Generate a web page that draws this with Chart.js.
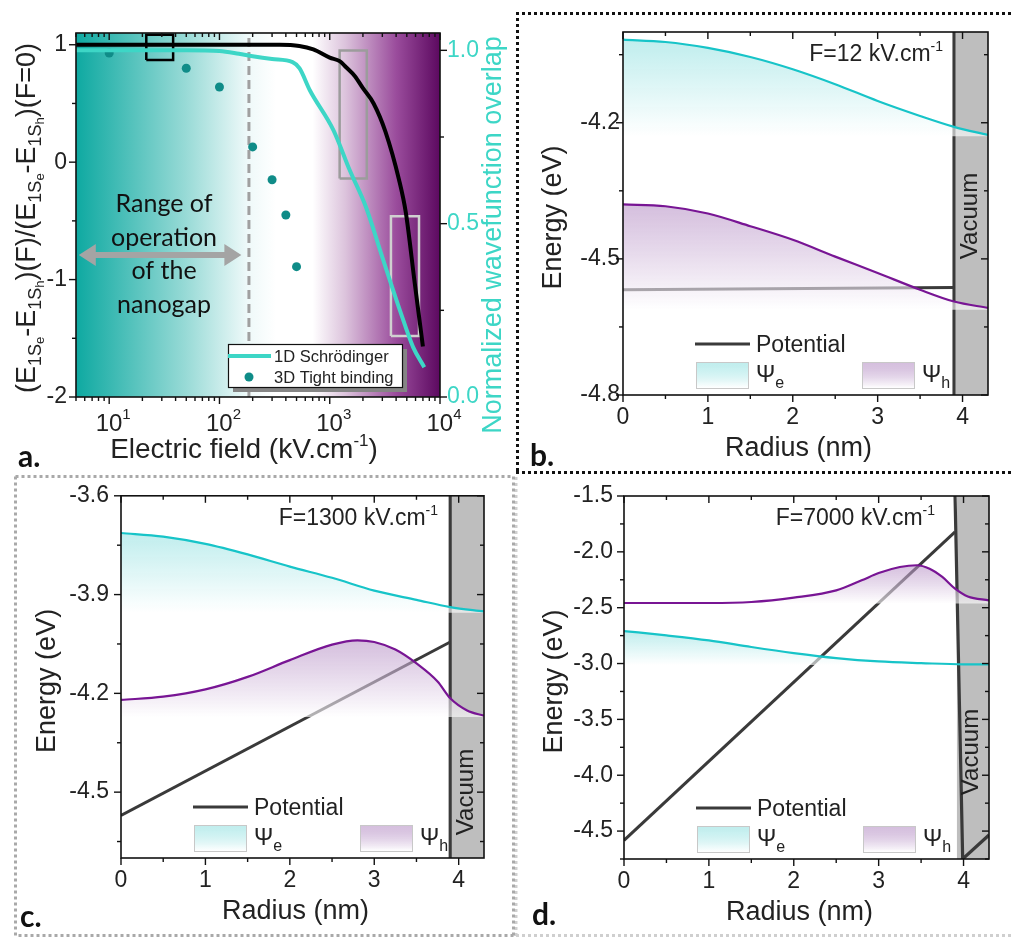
<!DOCTYPE html>
<html>
<head>
<meta charset="utf-8">
<script src="https://cdn.jsdelivr.net/npm/chart.js@4.4.0/dist/chart.umd.min.js"></script>
<style>
  body { margin: 0; background: #fff; width: 1012px; height: 937px; position: relative; overflow: hidden; }
  canvas { position: absolute; }
</style>
</head>
<body>
<canvas id="borders" width="1012" height="937" style="left:0;top:0"></canvas>
<canvas id="chartA" width="512" height="470" style="left:0;top:0"></canvas>
<canvas id="chartB" width="500" height="470" style="left:512px;top:0"></canvas>
<canvas id="chartC" width="512" height="467" style="left:0;top:470px"></canvas>
<canvas id="chartD" width="500" height="467" style="left:512px;top:470px"></canvas>
<script>
// ---- panel a : field dependence ----
const aFieldEnergy = [5, 100, 350, 530, 710, 1000, 1230, 1400, 1700, 2000, 2500, 3200, 4250, 4900, 5900, 7000];
const aEnergyRatio = [1, 1, 1, 0.99, 0.96, 0.89, 0.86, 0.81, 0.73, 0.63, 0.50, 0.26, -0.15, -0.43, -1.03, -1.57];
const aFieldOverlap = [5, 50, 100, 150, 200, 300, 460, 533, 660, 1080, 1520, 2130, 3000, 4330, 5700, 7200];
const aOverlap = [1.0, 1.0, 0.998, 0.99, 0.983, 0.975, 0.966, 0.948, 0.885, 0.77, 0.654, 0.548, 0.403, 0.25, 0.144, 0.086];
const aFieldTB = [10, 50, 100, 200, 300, 400, 500];
const aEnergyTB = [0.93, 0.80, 0.64, 0.13, -0.15, -0.45, -0.89];
const aTicksX = [10, 100, 1000, 10000];
const aTicksLeft = [-2, -1, 0, 1];
const aTicksRight = [0, 0.5, 1.0];
const aNanogapLimit = 185;
const aArrowField = [5.3, 158];
const aArrowLevel = -0.79;
const aBoxBlackX = [21.7, 38], aBoxBlackY = [0.87, 1.085];
const aBoxGreyX = [1230, 2170], aBoxGreyY = [-0.14, 0.95];
const aBoxLightX = [3590, 6450], aBoxLightY = [-1.48, -0.46];

// ---- panels b, c, d : radial profiles ----
const radiusTicks = [0, 1, 2, 3, 4];
const radiusMax = 4.3;
const vacuumStart = 3.92;

const bRadius = [0, 0.5, 1, 1.5, 2, 2.5, 3, 3.5, 3.9, 4.3];
const bElectron = [-4.017, -4.022, -4.035, -4.055, -4.082, -4.115, -4.152, -4.185, -4.209, -4.227];
const bHole = [-4.38, -4.384, -4.40, -4.428, -4.458, -4.495, -4.531, -4.568, -4.594, -4.608];
const bElectronBase = -4.23, bHoleBase = -4.612;
const bPotR = [0, 3.9], bPotE = [-4.568, -4.563];
const bWallR = [3.9, 3.9], bWallE = [-4.8, -4.0];
const bTicksY = [-4.8, -4.5, -4.2];

const cRadiusE = [0, 0.5, 1, 1.5, 2, 2.5, 3, 3.5, 3.9, 4.3];
const cElectron = [-3.713, -3.724, -3.746, -3.778, -3.815, -3.849, -3.888, -3.916, -3.938, -3.951];
const cRadiusH = [0, 0.5, 1, 1.5, 2, 2.5, 2.8, 3.0, 3.25, 3.5, 3.75, 3.9, 4.1, 4.3];
const cHole = [-4.22, -4.21, -4.188, -4.150, -4.099, -4.052, -4.039, -4.044, -4.067, -4.109, -4.164, -4.215, -4.252, -4.268];
const cElectronBase = -3.955, cHoleBase = -4.272;
const cPotR = [0, 3.9], cPotE = [-4.571, -4.044];
const cWallR = [3.9, 3.9], cWallE = [-4.7, -3.6];
const cTicksY = [-4.5, -4.2, -3.9, -3.6];

const dRadiusE = [0, 0.5, 1, 1.5, 2, 2.5, 3, 3.5, 4, 4.3];
const dElectron = [-2.709, -2.748, -2.793, -2.852, -2.906, -2.951, -2.981, -2.996, -3.007, -3.007];
const dRadiusH = [0, 0.5, 1, 1.5, 2, 2.5, 2.8, 3.0, 3.25, 3.45, 3.6, 3.75, 3.9, 4.05, 4.3];
const dHole = [-2.458, -2.458, -2.458, -2.449, -2.41, -2.345, -2.255, -2.19, -2.136, -2.12, -2.151, -2.225, -2.33, -2.40, -2.434];
const dElectronBase = -3.012, dHoleBase = -2.462;
const dPotR = [0, 3.9], dPotE = [-4.583, -1.822];
const dWallR = [3.9, 3.99, 4.3], dWallE = [-1.5, -4.75, -4.535];
const dTicksY = [-4.5, -4.0, -3.5, -3.0, -2.5, -2.0, -1.5];

const SANS = '"Liberation Sans", Arial, sans-serif';
const HUMAN = 'Lato, "Open Sans", sans-serif';
const TURQ = '#3dd6c6';
const ELECTRON = '#17c4c8';
const HOLE = '#781594';
const POT = '#3a3a3a';

Chart.defaults.font.family = SANS;
Chart.defaults.color = '#222';

function pts(xs, ys) { return xs.map((x, i) => ({ x: x, y: ys[i] })); }
function boxPts(xs, ys) {
  return [{x: xs[0], y: ys[0]}, {x: xs[1], y: ys[0]}, {x: xs[1], y: ys[1]}, {x: xs[0], y: ys[1]}, {x: xs[0], y: ys[0]}];
}

// mixed size text: parts = [text, size, dy]
function drawRich(ctx, parts, x, y, family, color, align) {
  ctx.save();
  ctx.fillStyle = color;
  ctx.textBaseline = 'alphabetic';
  ctx.textAlign = 'left';
  let w = 0;
  parts.forEach(p => { ctx.font = p[1] + 'px ' + family; w += ctx.measureText(p[0]).width; });
  let cx = align === 'center' ? x - w / 2 : (align === 'right' ? x - w : x);
  parts.forEach(p => {
    ctx.font = p[1] + 'px ' + family;
    ctx.fillText(p[0], cx, y + (p[2] || 0));
    cx += ctx.measureText(p[0]).width;
  });
  ctx.restore();
}
function drawRotated(ctx, parts, x, y, family, color) {
  ctx.save();
  ctx.translate(x, y);
  ctx.rotate(-Math.PI / 2);
  drawRich(ctx, parts, 0, 0, family, color, 'center');
  ctx.restore();
}

function minorValues(scale, majors) {
  const out = [];
  if (scale.type === 'logarithmic') {
    for (let e = Math.floor(Math.log10(scale.min)); e <= Math.ceil(Math.log10(scale.max)); e++) {
      for (let k = 2; k <= 9; k++) {
        const v = k * Math.pow(10, e);
        if (v >= scale.min && v <= scale.max) out.push(v);
      }
    }
    return out;
  }
  const step = (majors[1] - majors[0]) / 2;
  for (let v = majors[0] - step; v >= scale.min - 1e-9; v -= step) out.push(v);
  for (let v = majors[0] + step; v <= scale.max + 1e-9; v += step) {
    if (!majors.some(m => Math.abs(m - v) < 1e-6)) out.push(v);
  }
  return out;
}

// box frame + Origin style ticks (out on bottom/left, in on top/right)
const framePlugin = {
  id: 'frame',
  afterDatasetsDraw(chart) {
    const { ctx, chartArea: a, scales } = chart;
    ctx.save();
    ctx.strokeStyle = '#111';
    ctx.lineWidth = 1.6;
    ctx.strokeRect(a.left, a.top, a.right - a.left, a.bottom - a.top);
    ctx.lineWidth = 1.4;
    const mark = (x0, y0, x1, y1) => { ctx.beginPath(); ctx.moveTo(x0, y0); ctx.lineTo(x1, y1); ctx.stroke(); };
    const x = scales.x;
    const xm = x.ticks.map(t => t.value);
    [[xm, 7], [minorValues(x, xm), 4]].forEach(([vals, len]) => vals.forEach(v => {
      const p = x.getPixelForValue(v);
      if (p < a.left - 1 || p > a.right + 1) return;
      mark(p, a.bottom, p, a.bottom + len);
      mark(p, a.top, p, a.top + len);
    }));
    const y = scales.y;
    const ym = y.ticks.map(t => t.value);
    [[ym, 7], [minorValues(y, ym), 4]].forEach(([vals, len]) => vals.forEach(v => {
      const p = y.getPixelForValue(v);
      if (p < a.top - 1 || p > a.bottom + 1) return;
      mark(a.left - len, p, a.left, p);
      if (!scales.y2) mark(a.right - len, p, a.right, p);
    }));
    if (scales.y2) {
      const y2 = scales.y2;
      const y2m = y2.ticks.map(t => t.value);
      [[y2m, 7], [minorValues(y2, y2m), 4]].forEach(([vals, len]) => vals.forEach(v => {
        const p = y2.getPixelForValue(v);
        mark(a.right, p, a.right + len, p);
      }));
    }
    ctx.restore();
  }
};

// ---------------- panel a ----------------
const aBackground = {
  id: 'aBackground',
  beforeDatasetsDraw(chart) {
    const { ctx, chartArea: a } = chart;
    const g = ctx.createLinearGradient(a.left, 0, a.right, 0);
    g.addColorStop(0, '#0ea9a1');
    g.addColorStop(0.3, '#97dad6');
    g.addColorStop(0.47, '#eef9f9');
    g.addColorStop(0.55, '#ffffff');
    g.addColorStop(0.65, '#ffffff');
    g.addColorStop(0.74, '#dcc3dc');
    g.addColorStop(0.88, '#9a4c9c');
    g.addColorStop(1, '#5c0960');
    ctx.save();
    ctx.fillStyle = g;
    ctx.fillRect(a.left, a.top, a.right - a.left, a.bottom - a.top);
    ctx.restore();
  }
};

const aDecor = {
  id: 'aDecor',
  afterDatasetsDraw(chart) {
    const { ctx, scales } = chart;
    ctx.save();
    // double arrow
    const x0 = scales.x.getPixelForValue(aArrowField[0]);
    const x1 = scales.x.getPixelForValue(aArrowField[1]);
    const yy = scales.y.getPixelForValue(aArrowLevel);
    ctx.fillStyle = '#a4a4a4';
    ctx.beginPath();
    ctx.moveTo(x0, yy);
    ctx.lineTo(x0 + 17, yy - 11);
    ctx.lineTo(x0 + 17, yy - 3);
    ctx.lineTo(x1 - 17, yy - 3);
    ctx.lineTo(x1 - 17, yy - 11);
    ctx.lineTo(x1, yy);
    ctx.lineTo(x1 - 17, yy + 11);
    ctx.lineTo(x1 - 17, yy + 3);
    ctx.lineTo(x0 + 17, yy + 3);
    ctx.lineTo(x0 + 17, yy + 11);
    ctx.closePath();
    ctx.fill();
    // annotation text
    ctx.fillStyle = '#111';
    ctx.font = '25px ' + HUMAN;
    ctx.textAlign = 'center';
    ctx.textBaseline = 'alphabetic';
    ['Range of', 'operation', 'of the', 'nanogap'].forEach((t, i) => ctx.fillText(t, 164, 212 + i * 33.7));
    // legend with shadow
    const lx = 228, ly = 344, lw = 174, lh = 43;
    ctx.fillStyle = '#858585';
    ctx.fillRect(lx + 5, ly + 5, lw, lh);
    ctx.fillStyle = '#fff';
    ctx.fillRect(lx, ly, lw, lh);
    ctx.strokeStyle = '#111';
    ctx.lineWidth = 1.2;
    ctx.strokeRect(lx + 0.5, ly + 0.5, lw, lh);
    ctx.strokeStyle = TURQ;
    ctx.lineWidth = 4;
    ctx.beginPath(); ctx.moveTo(lx, ly + 12); ctx.lineTo(lx + 43, ly + 12); ctx.stroke();
    ctx.fillStyle = '#0f8c88';
    ctx.beginPath(); ctx.arc(lx + 21, ly + 33, 4.5, 0, Math.PI * 2); ctx.fill();
    ctx.fillStyle = '#222';
    ctx.textAlign = 'left';
    ctx.font = '16.5px ' + SANS;
    ctx.fillText('1D Schrödinger', lx + 46, ly + 18);
    ctx.fillText('3D Tight binding', lx + 46, ly + 39);
    ctx.restore();
  },
  afterDraw(chart) {
    const { ctx, scales } = chart;
    // log tick labels 10^n
    aTicksX.forEach(v => {
      const p = scales.x.getPixelForValue(v);
      drawRich(ctx, [['10', 24], [String(Math.round(Math.log10(v))), 15, -12]], p + 4, 431, SANS, '#222', 'center');
    });
    drawRich(ctx, [['Electric field (kV.cm', 28], ['-1', 17, -12], [')', 28]], 244, 458, SANS, '#222', 'center');
    drawRotated(ctx, [['(E', 27], ['1S', 18, 6], ['e', 13, 9], ['-E', 27], ['1S', 18, 6], ['h', 13, 9],
      [')(F)/(E', 27], ['1S', 18, 6], ['e', 13, 9], ['-E', 27], ['1S', 18, 6], ['h', 13, 9], [')(F=0)', 27]],
      35, 218, SANS, '#222');
    drawRotated(ctx, [['Normalized wavefunction overlap', 27]], 501, 235, SANS, TURQ);
    ctx.save();
    ctx.fillStyle = '#111';
    ctx.font = 'bold 30px ' + HUMAN;
    ctx.textAlign = 'left';
    ctx.fillText('a.', 18, 467);
    ctx.restore();
  }
};

new Chart(document.getElementById('chartA'), {
  type: 'line',
  data: {
    datasets: [
      { label: 'overlap', data: pts(aFieldOverlap, aOverlap), yAxisID: 'y2', borderColor: TURQ, borderWidth: 4,
        pointRadius: 0, cubicInterpolationMode: 'monotone', order: 1 },
      { label: 'energy', data: pts(aFieldEnergy, aEnergyRatio), yAxisID: 'y', borderColor: '#000', borderWidth: 4,
        pointRadius: 0, cubicInterpolationMode: 'monotone', order: 2 },
      { label: 'tight binding', data: pts(aFieldTB, aEnergyTB), yAxisID: 'y', showLine: false, pointRadius: 4.5,
        pointBackgroundColor: '#0f8c88', pointBorderWidth: 0, order: 3 },
      { label: 'box1', data: boxPts(aBoxBlackX, aBoxBlackY), yAxisID: 'y', borderColor: '#000', borderWidth: 2.5, pointRadius: 0, tension: 0, order: 4 },
      { label: 'box2', data: boxPts(aBoxGreyX, aBoxGreyY), yAxisID: 'y', borderColor: '#9c9c9c', borderWidth: 2.5, pointRadius: 0, tension: 0, order: 4 },
      { label: 'box3', data: boxPts(aBoxLightX, aBoxLightY), yAxisID: 'y', borderColor: '#d0d0d0', borderWidth: 2.5, pointRadius: 0, tension: 0, order: 4 },
      { label: 'limit', data: [{ x: aNanogapLimit, y: -2 }, { x: aNanogapLimit, y: 1.1 }], yAxisID: 'y',
        borderColor: '#a0a0a0', borderWidth: 3, borderDash: [9, 5], pointRadius: 0, order: 5 }
    ]
  },
  options: {
    responsive: false,
    animation: false,
    events: [],
    layout: { padding: { top: 33, left: 0, right: 0, bottom: 0 } },
    plugins: { legend: { display: false }, tooltip: { enabled: false } },
    scales: {
      x: {
        type: 'logarithmic', min: 5, max: 10000,
        grid: { display: false, drawTicks: false }, border: { display: false },
        afterBuildTicks: s => { s.ticks = aTicksX.map(v => ({ value: v })); },
        ticks: { display: false },
        afterFit: s => { s.height = 73; }
      },
      y: {
        position: 'left', min: -2, max: 1.1,
        grid: { display: false, drawTicks: false }, border: { display: false },
        afterBuildTicks: s => { s.ticks = aTicksLeft.map(v => ({ value: v })); },
        ticks: { font: { size: 23 }, color: '#222', padding: 9, callback: v => String(v) },
        afterFit: s => { s.width = 76; }
      },
      y2: {
        position: 'right', min: 0, max: 1.05,
        grid: { display: false, drawTicks: false }, border: { display: false },
        afterBuildTicks: s => { s.ticks = aTicksRight.map(v => ({ value: v })); },
        ticks: { font: { size: 23 }, color: TURQ, padding: 7, callback: v => Number(v).toFixed(1) },
        afterFit: s => { s.width = 72; }
      }
    }
  },
  plugins: [aBackground, framePlugin, aDecor]
});

// ---------------- panels b, c, d ----------------
function energyChart(id, p) {
  const topE = Math.max(...p.electron), topH = Math.max(...p.hole);
  const grad = (top, base, c0, c1) => (context) => {
    const { ctx, chartArea, scales } = context.chart;
    if (!chartArea) return c0;
    const g = ctx.createLinearGradient(0, scales.y.getPixelForValue(top), 0, scales.y.getPixelForValue(base));
    g.addColorStop(0, c0);
    g.addColorStop(1, c1);
    return g;
  };
  const eTop = 'rgba(150,226,226,0.6)', hTop = 'rgba(178,138,194,0.55)', bottom = 'rgba(255,255,255,0.62)';

  const decor = {
    id: 'decor',
    afterDraw(chart) {
      const { ctx, chartArea: a } = chart;
      ctx.save();
      // legend
      const L = a.left, B = a.bottom;
      ctx.strokeStyle = POT;
      ctx.lineWidth = 3;
      ctx.beginPath(); ctx.moveTo(L + 72, B - 51); ctx.lineTo(L + 127, B - 51); ctx.stroke();
      ctx.fillStyle = '#222';
      ctx.font = '23px ' + SANS;
      ctx.fillText('Potential', L + 133, B - 43);
      [[L + 73, eTop, 'e'], [L + 239, hTop, 'h']].forEach(([bx, c0, sub]) => {
        const g = ctx.createLinearGradient(0, B - 33, 0, B - 7);
        g.addColorStop(0, c0);
        g.addColorStop(1, 'rgba(255,255,255,1)');
        ctx.fillStyle = g;
        ctx.fillRect(bx, B - 33, 52, 26);
        ctx.strokeStyle = '#c8c8c8';
        ctx.lineWidth = 1;
        ctx.strokeRect(bx + 0.5, B - 32.5, 52, 26);
        drawRich(ctx, [['Ψ', 23], [sub, 16, 6]], bx + 60, B - 13, SANS, '#222', 'left');
      });
      // field label
      drawRich(ctx, [[p.fText, 23], ['-1', 14, -10]], a.right - p.fRight, a.top + 29, SANS, '#222', 'right');
      // vacuum
      ctx.save();
      ctx.translate((chart.scales.x.getPixelForValue(vacuumStart) + a.right) / 2 + 5, p.vacY);
      ctx.rotate(-Math.PI / 2);
      ctx.fillStyle = '#222';
      ctx.font = '24px ' + SANS;
      ctx.textAlign = 'center';
      ctx.fillText('Vacuum', 0, 0);
      ctx.restore();
      // axis titles
      drawRotated(ctx, [['Energy (eV)', 27]], a.left - p.titleX, (a.top + a.bottom) / 2 + 4, SANS, '#222');
      drawRich(ctx, [['Radius (nm)', 27]], (a.left + a.right) / 2 - 7, a.bottom + 61, SANS, '#222', 'center');
      ctx.fillStyle = '#111';
      ctx.font = 'bold 30px ' + HUMAN;
      ctx.textAlign = 'left';
      ctx.fillText(p.letter, p.letterX, p.letterY);
      ctx.restore();
    }
  };

  const datasets = [
    { data: pts(p.rE, p.electron), borderColor: ELECTRON, borderWidth: 2.2, pointRadius: 0,
      cubicInterpolationMode: 'monotone', fill: { value: p.eBase }, backgroundColor: grad(topE, p.eBase, eTop, bottom), order: 1 },
    { data: pts(p.rH, p.hole), borderColor: HOLE, borderWidth: 2.2, pointRadius: 0,
      cubicInterpolationMode: 'monotone', fill: { value: p.hBase }, backgroundColor: grad(topH, p.hBase, hTop, bottom), order: 2 },
    { data: pts(p.potR, p.potE), borderColor: POT, borderWidth: 3, pointRadius: 0, tension: 0, order: 4 },
    { data: pts(p.wallR, p.wallE), borderColor: POT, borderWidth: 3.2, pointRadius: 0, tension: 0, order: 5 },
    { data: [{ x: vacuumStart, y: p.yMax }, { x: radiusMax, y: p.yMax }], borderWidth: 0, pointRadius: 0,
      fill: { value: p.yMin }, backgroundColor: '#bebebe', order: 6 }
  ];

  new Chart(document.getElementById(id), {
    type: 'line',
    data: { datasets: datasets },
    options: {
      responsive: false,
      animation: false,
      events: [],
      layout: { padding: { top: p.padTop, left: 0, right: p.padRight, bottom: 0 } },
      plugins: { legend: { display: false }, tooltip: { enabled: false } },
      scales: {
        x: {
          type: 'linear', min: 0, max: radiusMax,
          grid: { display: false, drawTicks: false }, border: { display: false },
          afterBuildTicks: s => { s.ticks = radiusTicks.map(v => ({ value: v })); },
          ticks: { font: { size: 23 }, color: '#222', padding: 9, maxRotation: 0, callback: v => String(v) },
          afterFit: s => { s.height = p.axisH; }
        },
        y: {
          min: p.yMin, max: p.yMax,
          grid: { display: false, drawTicks: false }, border: { display: false },
          afterBuildTicks: s => { s.ticks = p.yTicks.map(v => ({ value: v })); },
          ticks: { font: { size: 23 }, color: '#222', padding: p.tickPad, callback: v => Number(v).toFixed(1) },
          afterFit: s => { s.width = p.axisW; }
        }
      }
    },
    plugins: [framePlugin, decor]
  });
}

energyChart('chartB', {
  rE: bRadius, electron: bElectron, rH: bRadius, hole: bHole, eBase: bElectronBase, hBase: bHoleBase,
  potR: bPotR, potE: bPotE, wallR: bWallR, wallE: bWallE, yMin: -4.8, yMax: -4.0, yTicks: bTicksY,
  fText: 'F=12 kV.cm', fRight: 45, letter: 'b.', letterX: 18, letterY: 466, vacY: 216,
  axisW: 111, padTop: 32, axisH: 75, padRight: 24, tickPad: 3, titleX: 62
});
energyChart('chartC', {
  rE: cRadiusE, electron: cElectron, rH: cRadiusH, hole: cHole, eBase: cElectronBase, hBase: cHoleBase,
  potR: cPotR, potE: cPotE, wallR: cWallR, wallE: cWallE, yMin: -4.7, yMax: -3.6, yTicks: cTicksY,
  fText: 'F=1300 kV.cm', fRight: 46, letter: 'c.', letterX: 20, letterY: 457, vacY: 322,
  axisW: 121, padTop: 25, axisH: 79, padRight: 28, tickPad: 12, titleX: 66
});
energyChart('chartD', {
  rE: dRadiusE, electron: dElectron, rH: dRadiusH, hole: dHole, eBase: dElectronBase, hBase: dHoleBase,
  potR: dPotR, potE: dPotE, wallR: dWallR, wallE: dWallE, yMin: -4.75, yMax: -1.5, yTicks: dTicksY,
  fText: 'F=7000 kV.cm', fRight: 54, letter: 'd.', letterX: 20, letterY: 455, vacY: 282,
  axisW: 112, padTop: 26, axisH: 78, padRight: 23, tickPad: 11, titleX: 62
});

// panel frames (dotted)
const bc = document.getElementById('borders').getContext('2d');
function dotted(color, segs) {
  bc.save();
  bc.strokeStyle = color;
  bc.lineWidth = 3;
  bc.setLineDash([3, 3]);
  segs.forEach(s => { bc.beginPath(); bc.moveTo(s[0], s[1]); bc.lineTo(s[2], s[3]); bc.stroke(); });
  bc.restore();
}
dotted('#cfcfcf', [[516, 477, 516, 937], [516, 935.5, 1012, 935.5]]);
dotted('#a9a9a9', [[15.5, 476.5, 513.5, 476.5], [513.5, 476.5, 513.5, 935.5], [513.5, 935.5, 15.5, 935.5], [15.5, 935.5, 15.5, 476.5]]);
dotted('#111', [[516, 13.5, 1012, 13.5], [517.5, 12, 517.5, 473], [516, 472.5, 1012, 472.5]]);
</script>
</body>
</html>
